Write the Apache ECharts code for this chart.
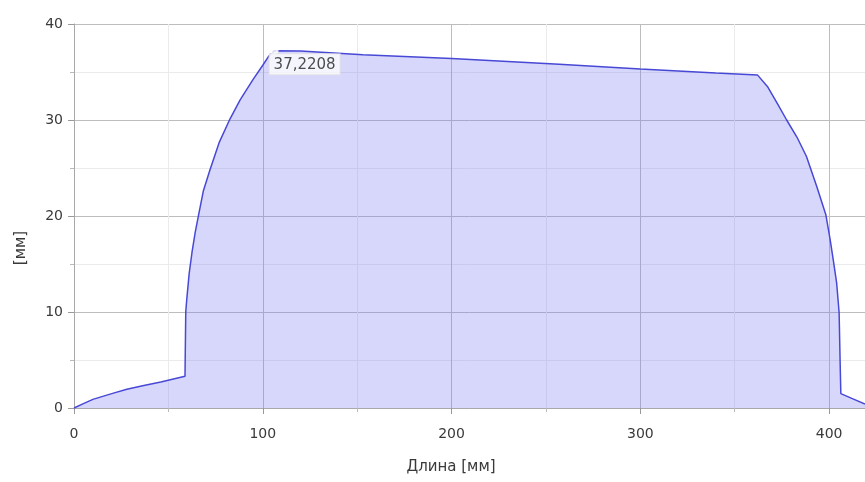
<!DOCTYPE html>
<html>
<head>
<meta charset="utf-8">
<script src="https://cdn.jsdelivr.net/npm/echarts@6/dist/echarts.min.js"></script>
<style>html,body{margin:0;padding:0;background:#fff;}#c{width:865px;height:482px;}</style>
</head>
<body>
<div id="c"></div>
<script>
// Profile data: length [mm] vs height [mm]
const lengthMm = [0, 5, 10, 20, 28, 37, 46, 58.8, 59.2, 59.7, 61, 62.5, 64.2, 65.8, 68.5, 72, 77, 82.6, 88, 94.8, 100, 103, 106, 120, 153, 200, 257, 300, 340, 362, 367.3, 372.6, 377.5, 383, 388, 393.4, 398.3, 400.5, 402.2, 404, 405.3, 405.8, 406.2, 412, 419];
const heightMm = [0, 0.45, 0.9, 1.5, 1.95, 2.35, 2.7, 3.3, 10, 11.25, 14, 16.2, 18.3, 19.9, 22.6, 24.8, 27.7, 30.1, 32.1, 34.2, 35.7, 36.6, 37.2208, 37.2, 36.8, 36.4, 35.8, 35.3, 34.9, 34.7, 33.5, 31.7, 30.0, 28.2, 26.2, 23.1, 20.1, 17.6, 15.4, 13, 9.9, 5, 1.5, 1.0, 0.4];
const peakX = [106];
const peakY = [37.2208];
const peakLabel = ['37,2208'];
const xTicks = [0, 100, 200, 300, 400];
const yTicks = [0, 10, 20, 30, 40];
const xTitle = 'Длина [мм]';
const yTitle = '[мм]';

const font = 'DejaVu Sans';
const chart = echarts.init(document.getElementById('c'), null, {renderer: 'canvas'});
const lineData = lengthMm.map((x, i) => [x, heightMm[i]]);
chart.setOption({
  animation: false,
  backgroundColor: '#fff',
  grid: {left: 74, right: 0, top: 24, bottom: 74, containLabel: false},
  xAxis: {
    type: 'value', min: 0, max: 419, interval: 100,
    axisLine: {show: true, onZero: false, lineStyle: {color: '#a8a8a8'}},
    axisTick: {show: true, length: 6, lineStyle: {color: '#999'}},
    minorTick: {show: true, splitNumber: 2, length: 4, lineStyle: {color: '#bbb'}},
    splitLine: {show: true, lineStyle: {color: '#bdbdbd', width: 1}},
    minorSplitLine: {show: true, lineStyle: {color: '#ebebeb', width: 1}},
    axisLabel: {
      color: '#3a3a3a', fontFamily: font, fontSize: 14, margin: 19,
      showMaxLabel: false,
      formatter: v => (xTicks.indexOf(v) >= 0 ? String(v) : '')
    }
  },
  yAxis: {
    type: 'value', min: 0, max: 40, interval: 10,
    axisLine: {show: true, lineStyle: {color: '#a8a8a8'}},
    axisTick: {show: true, length: 6, lineStyle: {color: '#999'}},
    minorTick: {show: true, splitNumber: 2, length: 4, lineStyle: {color: '#bbb'}},
    splitLine: {show: true, lineStyle: {color: '#bdbdbd', width: 1}},
    minorSplitLine: {show: true, lineStyle: {color: '#ebebeb', width: 1}},
    axisLabel: {
      color: '#3a3a3a', fontFamily: font, fontSize: 14, margin: 11,
      formatter: v => (yTicks.indexOf(v) >= 0 ? String(v) : '')
    }
  },
  graphic: [
    {type: 'text', x: 451, y: 467, style: {text: xTitle, fill: '#3a3a3a', font: '15px "DejaVu Sans"', align: 'center', verticalAlign: 'middle'}},
    {type: 'text', x: 21, y: 248, rotation: Math.PI / 2, style: {text: yTitle, fill: '#3a3a3a', font: '15px "DejaVu Sans"', align: 'center', verticalAlign: 'middle'}}
  ],
  series: [
    {
      type: 'line',
      data: lineData,
      showSymbol: false,
      smooth: false,
      lineStyle: {color: '#4848d6', width: 1.5},
      areaStyle: {color: 'rgba(118,118,242,0.42)', origin: 'start'},
      z: 2
    },
    {
      type: 'scatter',
      data: peakX.map((x, i) => [x, peakY[i]]),
      symbol: 'emptyCircle',
      symbolSize: 7,
      itemStyle: {color: '#fff', borderColor: '#9a9a80', borderWidth: 1.2},
      label: {
        show: true,
        position: [0, 8],
        formatter: p => peakLabel[p.dataIndex],
        color: '#222', fontFamily: font, fontSize: 15,
        backgroundColor: 'rgba(255,255,255,0.92)',
        borderColor: '#e4e4e4', borderWidth: 1,
        padding: [3, 4, 2, 4]
      },
      z: 5
    }
  ]
});
</script>
</body>
</html>
